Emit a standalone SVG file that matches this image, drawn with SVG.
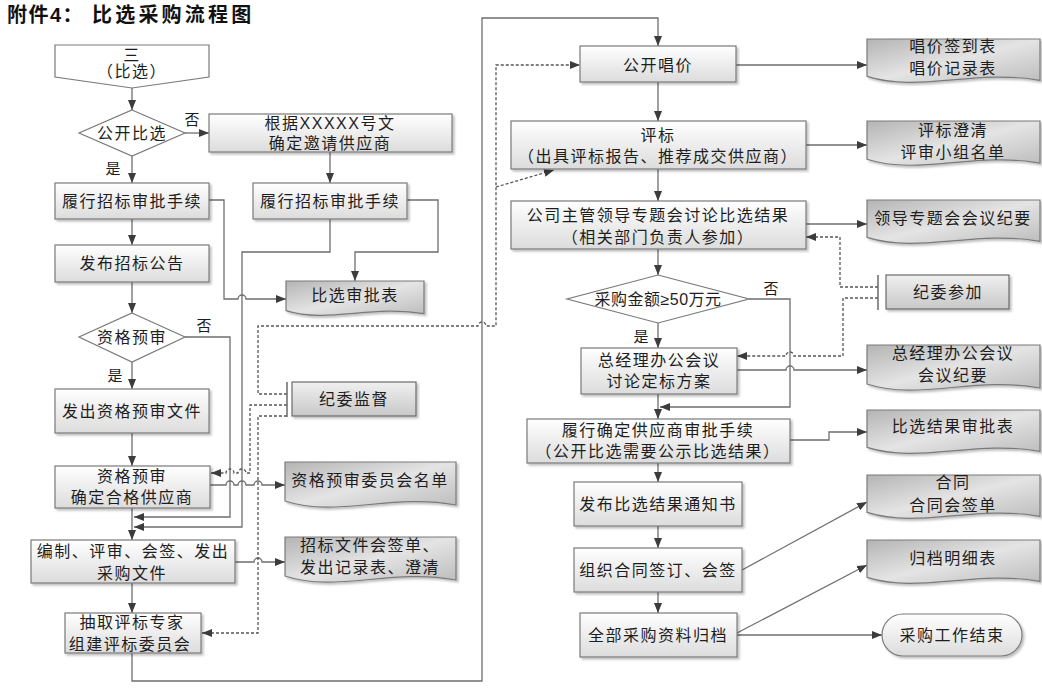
<svg xmlns="http://www.w3.org/2000/svg" width="1042" height="694" viewBox="0 0 1042 694">
<defs>
<linearGradient id="gProc" x1="0" y1="0" x2="0" y2="1"><stop offset="0" stop-color="#ffffff"/><stop offset="1" stop-color="#dcdcdc"/></linearGradient>
<linearGradient id="gDoc" x1="0" y1="0" x2="1" y2="1"><stop offset="0" stop-color="#b4b4b4"/><stop offset="0.5" stop-color="#e4e4e4"/><stop offset="1" stop-color="#bcbcbc"/></linearGradient>
<linearGradient id="gJw" x1="0" y1="0" x2="0" y2="1"><stop offset="0" stop-color="#f0f0f0"/><stop offset="1" stop-color="#c8c8c8"/></linearGradient>
<filter id="sh" x="-10%" y="-10%" width="130%" height="140%"><feDropShadow dx="2" dy="2" stdDeviation="1" flood-color="#000" flood-opacity="0.25"/></filter>
<marker id="ar" viewBox="0 0 10 8" refX="10" refY="4" markerWidth="10" markerHeight="8" markerUnits="userSpaceOnUse" orient="auto"><path d="M0,0 L10,4 L0,8 z" fill="#3c3c3c"/></marker>
</defs>
<style>
.box{fill:url(#gProc);stroke:#7a7a7a;stroke-width:1.2;filter:url(#sh)}
.doc{fill:url(#gDoc);stroke:#7a7a7a;stroke-width:1.2;filter:url(#sh)}
.jw{fill:url(#gJw);stroke:#6a6a6a;stroke-width:1.2;filter:url(#sh)}
.dia{fill:#ffffff;stroke:#7a7a7a;stroke-width:1.2}
.brk{fill:none;stroke:#6a6a6a;stroke-width:1.5}
.ln{fill:none;stroke:#6e6e6e;stroke-width:1.3;marker-end:url(#ar)}
.ln0{fill:none;stroke:#6e6e6e;stroke-width:1.3}
.dot{fill:none;stroke:#555555;stroke-width:1.3;stroke-dasharray:3 2;marker-end:url(#ar)}
.t{font-family:"Liberation Sans","Noto Sans CJK SC",sans-serif;font-size:16px;fill:#1e1e1e;text-anchor:middle;dominant-baseline:central;letter-spacing:1.5px}
.lb{font-family:"Liberation Sans","Noto Sans CJK SC",sans-serif;font-size:15px;fill:#1e1e1e;text-anchor:middle;dominant-baseline:central}
.title{font-family:"Liberation Sans","Noto Sans CJK SC",sans-serif;font-size:20px;font-weight:bold;fill:#111;dominant-baseline:central}
</style>

<g id="title">
<text class="title" x="7" y="15" style="letter-spacing:1.5px">附件4：</text>
<text class="title" x="92" y="15" style="letter-spacing:3.2px">比选采购流程图</text>
</g>

<g id="connectors">
<!-- left column -->
<path class="ln" d="M132,88 V110"/>
<path class="ln" d="M185,133 H209"/>
<path class="ln" d="M132,156 V183"/>
<path class="ln" d="M330,152 V183"/>
<path class="ln" d="M132,219 V245"/>
<path class="ln" d="M209,200 H224 V299 H238 A4,4 0 0 1 246,299 H286"/>
<path class="ln" d="M407,200 H438 V252 H355 V281"/>
<path class="ln" d="M330,219 V252 H242 V527 H134"/>
<path class="ln" d="M132,282 V313"/>
<path class="ln" d="M132,362 V389"/>
<path class="ln" d="M185,337 H230 V517 H134"/>
<path class="ln" d="M132,433 V466"/>
<path class="ln" d="M132,508 V540"/>
<path class="ln" d="M210,485 H226 A4,4 0 0 1 234,485 H238 A4,4 0 0 1 246,485 H254 A4,4 0 0 1 262,485 H285"/>
<path class="ln" d="M235,562 H254 A4,4 0 0 1 262,562 H285"/>
<path class="ln" d="M132,583 V613"/>
<path class="ln" d="M132,653 V681 H482 V18 H658 V46"/>
<!-- dotted from 纪委监督 -->
<path class="dot" d="M287,394 H258 V326 H478 A4,4 0 0 1 486,326 H496 V65 H580"/>
<path class="dot" d="M496,187 L554,170"/>
<path class="dot" d="M287,405 H250 V473 H246 A4,4 0 0 0 238,473 H234 A4,4 0 0 0 226,473 H211"/>
<path class="dot" d="M287,416 H258 V633 H202"/>
<!-- right column -->
<path class="ln" d="M736,65 H867"/>
<path class="ln" d="M658,82 V121"/>
<path class="ln" d="M806,145 H867"/>
<path class="ln" d="M658,169 V201"/>
<path class="ln" d="M806,224 H867"/>
<path class="ln" d="M658,249 V275"/>
<path class="ln" d="M658,323 V348"/>
<path class="ln" d="M749,299 H790 V407 H660"/>
<path class="ln" d="M737,370 H786 A4,4 0 0 1 794,370 H867"/>
<path class="ln" d="M658,394 V419"/>
<path class="ln" d="M790,440 H829 V432 H867"/>
<path class="ln" d="M658,463 V482"/>
<path class="ln" d="M658,526 V548"/>
<path class="ln" d="M742,570 L867,502"/>
<path class="ln" d="M658,592 V613"/>
<path class="ln" d="M737,633 L867,565"/>
<path class="ln" d="M737,635 H882"/>
<!-- dotted from 纪委参加 -->
<path class="dot" d="M878,287 H840 V237 H806"/>
<path class="dot" d="M878,298 H843 V356 H794 A4,4 0 0 0 786,356 H737"/>
</g>

<g id="start">
<path class="dia" d="M55,45 H209 V77 L132,88 L55,77 Z"/>
<text class="t" x="132" y="55">三</text>
<text class="t" x="132" y="71">（比选）</text>
</g>

<g id="dec1">
<path class="dia" d="M132,110 L185,133 L132,156 L79,133 Z"/>
<text class="t" x="132" y="133">公开比选</text>
<text class="lb" x="192" y="119">否</text>
<text class="lb" x="113" y="168">是</text>
</g>

<g id="invite">
<rect class="box" x="209" y="114" width="243" height="38"/>
<text class="t" x="330" y="123">根据XXXXX号文</text>
<text class="t" x="330" y="143">确定邀请供应商</text>
</g>

<g id="approveL">
<rect class="box" x="55" y="183" width="154" height="36"/>
<text class="t" x="132" y="201">履行招标审批手续</text>
</g>

<g id="approveR">
<rect class="box" x="253" y="183" width="154" height="36"/>
<text class="t" x="330" y="201">履行招标审批手续</text>
</g>

<g id="announce">
<rect class="box" x="55" y="245" width="154" height="37"/>
<text class="t" x="132" y="263">发布招标公告</text>
</g>

<g id="docApprove">
<path class="doc" d="M286,281 H424 V313.7 C371.6,304.6 327.4,323.6 286,310.6 Z"/>
<text class="t" x="355" y="295">比选审批表</text>
</g>

<g id="dec2">
<path class="dia" d="M132,313 L185,337 L132,362 L79,337 Z"/>
<text class="t" x="132" y="337">资格预审</text>
<text class="lb" x="204" y="325">否</text>
<text class="lb" x="115" y="375">是</text>
</g>

<g id="issuePre">
<rect class="box" x="55" y="389" width="154" height="44"/>
<text class="t" x="132" y="411">发出资格预审文件</text>
</g>

<g id="jwSupervise">
<line class="brk" x1="287" y1="382" x2="287" y2="417"/>
<rect class="jw" x="292" y="382" width="124" height="34"/>
<text class="t" x="354" y="399">纪委监督</text>
</g>

<g id="preReview">
<rect class="box" x="55" y="466" width="155" height="42"/>
<text class="t" x="132" y="476">资格预审</text>
<text class="t" x="132" y="497">确定合格供应商</text>
</g>

<g id="docPre">
<path class="doc" d="M285,462 H456 V505 C391,493 336.3,518 285,501 Z"/>
<text class="t" x="370" y="480">资格预审委员会名单</text>
</g>

<g id="prepare">
<rect class="box" x="31" y="540" width="204" height="43"/>
<text class="t" x="133" y="551">编制、评审、会签、发出</text>
<text class="t" x="132" y="573">采购文件</text>
</g>

<g id="docTender">
<path class="doc" d="M285,537 H456 V580 C391,568 336.3,593 285,576 Z"/>
<text class="t" x="370" y="545">招标文件会签单、</text>
<text class="t" x="370" y="567">发出记录表、澄清</text>
</g>

<g id="experts">
<rect class="box" x="65" y="613" width="136" height="40"/>
<text class="t" x="132" y="622">抽取评标专家</text>
<text class="t" x="130" y="644">组建评标委员会</text>
</g>

<g id="opening">
<rect class="box" x="580" y="46" width="156" height="36"/>
<text class="t" x="658" y="65">公开唱价</text>
</g>

<g id="docOpening">
<path class="doc" d="M867,39 H1040 V80.3 C974.3,68.8 918.9,92.8 867,76.4 Z"/>
<text class="t" x="953" y="46">唱价签到表</text>
<text class="t" x="953" y="68">唱价记录表</text>
</g>

<g id="evaluate">
<rect class="box" x="511" y="121" width="295" height="48"/>
<text class="t" x="658" y="135">评标</text>
<text class="t" x="658" y="156">（出具评标报告、推荐成交供应商）</text>
</g>

<g id="docEval">
<path class="doc" d="M867,121 H1040 V163.1 C974.3,151.4 918.9,175.9 867,159.2 Z"/>
<text class="t" x="953" y="130">评标澄清</text>
<text class="t" x="953" y="152">评审小组名单</text>
</g>

<g id="leaderMeeting">
<rect class="box" x="511" y="201" width="295" height="48"/>
<text class="t" x="658" y="215">公司主管领导专题会讨论比选结果</text>
<text class="t" x="658" y="237">（相关部门负责人参加）</text>
</g>

<g id="docLeader">
<path class="doc" d="M867,200 H1040 V241.3 C974.3,229.8 918.9,253.8 867,237.4 Z"/>
<text class="t" x="953" y="218">领导专题会会议纪要</text>
</g>

<g id="jwJoin">
<line class="brk" x1="878" y1="275" x2="878" y2="310"/>
<rect class="jw" x="886" y="275" width="123" height="34"/>
<text class="t" x="948" y="292">纪委参加</text>
</g>

<g id="dec3">
<path class="dia" d="M658,275 L749,299 L658,323 L567,299 Z"/>
<text class="t" x="658" y="299" style="letter-spacing:0.5px">采购金额≥50万元</text>
<text class="lb" x="771" y="288">否</text>
<text class="lb" x="641" y="336">是</text>
</g>

<g id="gmMeeting">
<rect class="box" x="581" y="348" width="156" height="46"/>
<text class="t" x="659" y="360">总经理办公会议</text>
<text class="t" x="659" y="381">讨论定标方案</text>
</g>

<g id="docGm">
<path class="doc" d="M867,345 H1040 V388 C974.3,376 918.9,401 867,384 Z"/>
<text class="t" x="953" y="353">总经理办公会议</text>
<text class="t" x="953" y="375">会议纪要</text>
</g>

<g id="confirm">
<rect class="box" x="527" y="419" width="263" height="44"/>
<text class="t" x="658" y="430">履行确定供应商审批手续</text>
<text class="t" x="658" y="451">（公开比选需要公示比选结果）</text>
</g>

<g id="docResult">
<path class="doc" d="M867,410 H1040 V451.3 C974.3,439.8 918.9,463.8 867,447.4 Z"/>
<text class="t" x="953" y="426">比选结果审批表</text>
</g>

<g id="notice">
<rect class="box" x="574" y="482" width="168" height="44"/>
<text class="t" x="658" y="504">发布比选结果通知书</text>
</g>

<g id="docContract">
<path class="doc" d="M867,475 H1040 V516.3 C974.3,504.8 918.9,528.8 867,512.4 Z"/>
<text class="t" x="953" y="482">合同</text>
<text class="t" x="953" y="505">合同会签单</text>
</g>

<g id="contract">
<rect class="box" x="574" y="548" width="168" height="44"/>
<text class="t" x="658" y="570">组织合同签订、会签</text>
</g>

<g id="docArchive">
<path class="doc" d="M867,540 H1040 V581.3 C974.3,569.8 918.9,593.8 867,577.4 Z"/>
<text class="t" x="953" y="558">归档明细表</text>
</g>

<g id="archive">
<rect class="box" x="580" y="613" width="157" height="44"/>
<text class="t" x="658" y="635">全部采购资料归档</text>
</g>

<g id="end">
<rect class="box" x="882" y="614" width="140" height="42" rx="21" ry="21"/>
<text class="t" x="952" y="635">采购工作结束</text>
</g>
</svg>
